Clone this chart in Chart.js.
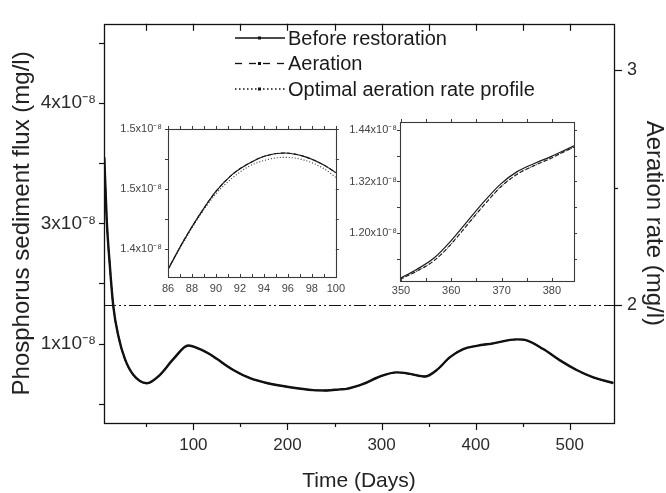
<!DOCTYPE html>
<html><head><meta charset="utf-8">
<script src="https://cdn.jsdelivr.net/npm/chart.js@4.4.1/dist/chart.umd.min.js"></script>
<style>
html,body{margin:0;padding:0;background:#fff;}
#wrap{position:relative;width:666px;height:493px;overflow:hidden;background:#fff;}
canvas{position:absolute;}
#main{left:0;top:0;}
#in1{left:110px;top:115px;}
#in2{left:345px;top:108px;}
</style></head><body>
<div id="wrap">
<canvas id="main" width="666" height="493"></canvas>
<canvas id="in1" width="240" height="190"></canvas>
<canvas id="in2" width="240" height="200"></canvas>
</div>
<script>
// ---- main plot data (flux in units of 1e-8 mg/l) ----
const mainDays = [5.3, 7.9, 11.4, 14.9, 20.2, 27.3, 36.1, 50.4, 64.5, 78.6, 94.6, 107.0, 117.6, 124.8, 142.4, 160.2, 177.9, 202.7, 227.4, 241.7, 255.8, 262.9, 280.6, 298.3, 316.1, 330.2, 346.1, 358.6, 372.7, 386.8, 401.1, 418.7, 443.6, 454.2, 471.8, 489.6, 507.3, 525.0, 546.2];
const beforeMain = [3.05, 2.53, 2.13, 1.81, 1.565, 1.37, 1.24, 1.17, 1.24, 1.37, 1.484, 1.454, 1.411, 1.373, 1.28, 1.212, 1.172, 1.137, 1.113, 1.11, 1.119, 1.123, 1.164, 1.226, 1.26, 1.248, 1.226, 1.28, 1.387, 1.454, 1.481, 1.502, 1.535, 1.527, 1.454, 1.36, 1.28, 1.218, 1.172];
const aerationMain = [3.05, 2.53, 2.13, 1.81, 1.565, 1.37, 1.24, 1.17, 1.24, 1.37, 1.483, 1.453, 1.410, 1.372, 1.28, 1.212, 1.172, 1.137, 1.113, 1.11, 1.119, 1.123, 1.164, 1.226, 1.26, 1.248, 1.226, 1.278, 1.385, 1.453, 1.481, 1.502, 1.535, 1.527, 1.454, 1.36, 1.28, 1.218, 1.172];
const optimalMain = [3.05, 2.53, 2.13, 1.81, 1.565, 1.37, 1.24, 1.17, 1.24, 1.37, 1.480, 1.451, 1.409, 1.372, 1.28, 1.212, 1.172, 1.137, 1.113, 1.11, 1.119, 1.123, 1.164, 1.226, 1.26, 1.248, 1.226, 1.278, 1.385, 1.453, 1.481, 1.502, 1.535, 1.527, 1.454, 1.36, 1.28, 1.218, 1.172];
const aerationRateDays = [5, 547];
const aerationRate = [2, 2];

const xTickValues = [100, 200, 300, 400, 500];
const xTickLabels = ['100', '200', '300', '400', '500'];
const yTickValues = [1.5, 2.5, 3.5];
const yTickLabels = ['1x10⁻⁸', '3x10⁻⁸', '4x10⁻⁸'];
const y2TickValues = [2, 3];
const y2TickLabels = ['2', '3'];

// ---- inset 1 (days 86-100) ----
const inset1Days = [86, 87.25, 88.6, 90.0, 91.35, 92.7, 94.1, 95.7, 97.4, 99.0, 100];
const inset1Before = [1.383, 1.406, 1.428, 1.448, 1.462, 1.471, 1.4775, 1.480, 1.477, 1.470, 1.4636];
const inset1Aeration = [1.383, 1.406, 1.428, 1.448, 1.462, 1.471, 1.4775, 1.480, 1.477, 1.470, 1.4636];
const inset1Optimal = [1.383, 1.405, 1.427, 1.446, 1.459, 1.4686, 1.474, 1.4764, 1.474, 1.467, 1.4597];
const inset1XTicks = [86, 88, 90, 92, 94, 96, 98, 100];
const inset1YTicks = [1.40, 1.45, 1.50];
const inset1YLabels = ['1.4x10⁻⁸', '1.5x10⁻⁸', '1.5x10⁻⁸'];

// ---- inset 2 (days 350-385) ----
const inset2Days = [349.8, 353.1, 356.5, 359.8, 363.1, 366.5, 369.8, 373.1, 376.5, 379.8, 382.2, 384.4];
const inset2Before = [1.094, 1.115, 1.141, 1.180, 1.226, 1.273, 1.314, 1.343, 1.362, 1.378, 1.391, 1.403];
const inset2Aeration = [1.092, 1.111, 1.135, 1.172, 1.218, 1.265, 1.307, 1.337, 1.357, 1.374, 1.388, 1.400];
const inset2Optimal = [1.092, 1.111, 1.135, 1.172, 1.218, 1.265, 1.307, 1.337, 1.357, 1.374, 1.388, 1.400];
const inset2XTicks = [350, 360, 370, 380];
const inset2YTicks = [1.20, 1.32, 1.44];
const inset2YLabels = ['1.20x10⁻⁸', '1.32x10⁻⁸', '1.44x10⁻⁸'];

const FONT = "'Liberation Sans', Arial, Helvetica, sans-serif";
const pts = (xs, ys) => xs.map((x, i) => ({x: x, y: ys[i]}));
const setTicks = vals => scale => { scale.ticks = vals.map(v => ({value: v})); };

function range(a, b, s) { const r = []; for (let v = a; v <= b + 1e-9; v += s) r.push(+v.toFixed(4)); return r; }

function frameTicks(spec) {
  return {
    id: 'frameTicks',
    afterDatasetsDraw(chart) {
      const ctx = chart.ctx, a = chart.chartArea;
      ctx.save();
      ctx.strokeStyle = spec.color;
      ctx.lineWidth = spec.width;
      ctx.setLineDash([]);
      ctx.strokeRect(Math.round(a.left) + 0.5, Math.round(a.top) + 0.5, Math.round(a.right - a.left), Math.round(a.bottom - a.top));
      ctx.lineWidth = spec.tickWidth;
      spec.marks.forEach(m => {
        const s = chart.scales[m.axis];
        m.values.forEach(v => {
          const p = Math.round(s.getPixelForValue(v)) + 0.5;
          ctx.beginPath();
          if (m.side === 'bottom') { ctx.moveTo(p, a.bottom); ctx.lineTo(p, a.bottom + m.len); }
          else if (m.side === 'top') { ctx.moveTo(p, a.top); ctx.lineTo(p, a.top - m.len); }
          else if (m.side === 'left') { ctx.moveTo(a.left, p); ctx.lineTo(a.left - m.len, p); }
          else { ctx.moveTo(a.right, p); ctx.lineTo(a.right + m.len, p); }
          ctx.stroke();
        });
      });
      ctx.restore();
    }
  };
}

const legendPlugin = {
  id: 'customLegend',
  afterDraw(chart) {
    const ctx = chart.ctx;
    const items = chart.data.datasets.filter(d => d.inLegend !== false);
    ctx.save();
    items.forEach((d, i) => {
      const y = 38 + i * 25.5;
      ctx.strokeStyle = '#111';
      ctx.lineWidth = 1.3;
      ctx.setLineDash(d.legendDash || []);
      ctx.beginPath(); ctx.moveTo(235, y); ctx.lineTo(285, y); ctx.stroke();
      ctx.setLineDash([]);
      ctx.fillStyle = '#111';
      ctx.fillRect(258, y - 1.5, 3, 3);
      ctx.fillStyle = '#1a1a1a';
      ctx.font = '20px ' + FONT;
      ctx.textBaseline = 'middle';
      ctx.textAlign = 'left';
      ctx.fillText(d.label, 288, y + 1);
    });
    ctx.restore();
  }
};

// ---- main chart ----
new Chart(document.getElementById('main'), {
  type: 'line',
  data: {
    datasets: [
      {label: 'Before restoration', data: pts(mainDays, beforeMain), borderColor: '#111', borderWidth: 2.4, pointRadius: 0, cubicInterpolationMode: 'monotone', yAxisID: 'y', legendDash: []},
      {label: 'Aeration', data: pts(mainDays, aerationMain), borderColor: '#111', borderWidth: 1.4, borderDash: [6, 4], pointRadius: 0, cubicInterpolationMode: 'monotone', yAxisID: 'y', legendDash: [7, 7]},
      {label: 'Optimal aeration rate profile', data: pts(mainDays, optimalMain), borderColor: '#111', borderWidth: 1.4, borderDash: [1.5, 2.5], pointRadius: 0, cubicInterpolationMode: 'monotone', yAxisID: 'y', legendDash: [1.5, 2.5]},
      {label: 'Aeration rate', data: pts(aerationRateDays, aerationRate), borderColor: '#111', borderWidth: 1.1, borderDash: [12, 3, 2, 3, 2, 3], pointRadius: 0, yAxisID: 'y2', inLegend: false}
    ]
  },
  options: {
    responsive: false, animation: false, devicePixelRatio: 1,
    layout: {padding: {top: 12, left: 0, right: 0, bottom: 0}},
    plugins: {legend: {display: false}, tooltip: {enabled: false}},
    scales: {
      x: {
        type: 'linear', position: 'bottom', min: 5, max: 547,
        afterBuildTicks: setTicks(xTickValues),
        afterFit: s => { s.height = 70; },
        grid: {display: false, drawTicks: false}, border: {display: false},
        ticks: {callback: (v, i) => xTickLabels[i], autoSkip: false, maxRotation: 0, padding: 12, color: '#2b2b2b', font: {family: FONT, size: 17}},
        title: {display: true, text: 'Time (Days)', color: '#222', font: {family: FONT, size: 21, lineHeight: 1}, padding: {top: 0, bottom: 1.5}}
      },
      y: {
        type: 'linear', position: 'left', min: 0.839, max: 4.161,
        afterBuildTicks: setTicks(yTickValues),
        afterFit: s => { s.width = 104; },
        grid: {display: false, drawTicks: false}, border: {display: false},
        ticks: {callback: (v, i) => yTickLabels[i], autoSkip: false, padding: 8, color: '#2b2b2b', font: {family: FONT, size: 19}},
        title: {display: true, text: 'Phosphorus sediment flux (mg/l)', color: '#222', font: {family: FONT, size: 24, lineHeight: 1}, padding: {top: 10, bottom: 0}}
      },
      y2: {
        type: 'linear', position: 'right', min: 1.5, max: 3.198,
        afterBuildTicks: setTicks(y2TickValues),
        afterFit: s => { s.width = 52; },
        grid: {display: false, drawTicks: false}, border: {display: false},
        ticks: {callback: (v, i) => y2TickLabels[i], autoSkip: false, padding: 13, color: '#2b2b2b', font: {family: FONT, size: 18}},
        title: {display: true, text: 'Aeration rate (mg/l)', color: '#222', font: {family: FONT, size: 24, lineHeight: 1}, padding: {top: 0, bottom: 0}}
      }
    }
  },
  plugins: [frameTicks({color: '#111', width: 1.3, tickWidth: 1.2, marks: [
    {axis: 'x', side: 'bottom', len: 7, values: xTickValues},
    {axis: 'x', side: 'bottom', len: 4, values: [50, 150, 250, 350, 450]},
    {axis: 'x', side: 'top', len: -7, values: [50, 100, 150, 200, 250, 300, 350, 400, 450, 500]},
    {axis: 'y', side: 'left', len: 5, values: [1, 1.5, 2, 2.5, 3, 3.5, 4]},
    {axis: 'y2', side: 'right', len: 8, values: y2TickValues},
    {axis: 'y2', side: 'right', len: 4, values: [2.5]}
  ]}), legendPlugin]
});

// ---- inset charts ----
function insetChart(id, cfg) {
  return new Chart(document.getElementById(id), {
    type: 'line',
    data: {
      datasets: [
        {label: 'Before restoration', data: pts(cfg.days, cfg.before), borderColor: '#1a1a1a', borderWidth: 1.2, pointRadius: 0, cubicInterpolationMode: 'monotone'},
        {label: 'Aeration', data: pts(cfg.days, cfg.aeration), borderColor: '#1a1a1a', borderWidth: 1.1, borderDash: [4, 2.5], pointRadius: 0, cubicInterpolationMode: 'monotone'},
        {label: 'Optimal aeration rate profile', data: pts(cfg.days, cfg.optimal), borderColor: '#333', borderWidth: 1.1, borderDash: [1, 2], pointRadius: 0, cubicInterpolationMode: 'monotone'}
      ]
    },
    options: {
      responsive: false, animation: false, devicePixelRatio: 1,
      layout: {padding: {top: cfg.top, left: 0, right: cfg.right, bottom: 0}},
      plugins: {legend: {display: false}, tooltip: {enabled: false}},
      scales: {
        x: {
          type: 'linear', min: cfg.xmin, max: cfg.xmax,
          afterBuildTicks: setTicks(cfg.xTicks),
          afterFit: s => { s.height = cfg.xh; },
          grid: {display: false, drawTicks: false}, border: {display: false},
          ticks: {callback: v => String(v), autoSkip: false, maxRotation: 0, padding: cfg.xpad, color: '#444', font: {family: FONT, size: 11}}
        },
        y: {
          type: 'linear', min: cfg.ymin, max: cfg.ymax,
          afterBuildTicks: setTicks(cfg.yTicks),
          afterFit: s => { s.width = cfg.yw; },
          grid: {display: false, drawTicks: false}, border: {display: false},
          ticks: {callback: (v, i) => cfg.yLabels[i], autoSkip: false, padding: cfg.ypad, color: '#444', font: {family: FONT, size: 11}}
        }
      }
    },
    plugins: [frameTicks({color: '#3a3a3a', width: 1.1, tickWidth: 1, marks: [
      {axis: 'x', side: 'bottom', len: -3, values: cfg.xMinor},
      {axis: 'x', side: 'top', len: 3, values: cfg.xMinor},
      {axis: 'y', side: 'left', len: 3, values: cfg.yMinor},
      {axis: 'y', side: 'right', len: 3, values: cfg.yMinor}
    ]})]
  });
}

insetChart('in1', {
  days: inset1Days, before: inset1Before, aeration: inset1Aeration, optimal: inset1Optimal,
  xmin: 86, xmax: 100, ymin: 1.3767, ymax: 1.50,
  xTicks: inset1XTicks, yTicks: inset1YTicks, yLabels: inset1YLabels,
  xMinor: range(86, 100, 1), yMinor: [1.40, 1.425, 1.45, 1.475, 1.50],
  top: 14, right: 11, xh: 28, yw: 58, xpad: 5, ypad: 6
});
insetChart('in2', {
  days: inset2Days, before: inset2Before, aeration: inset2Aeration, optimal: inset2Optimal,
  xmin: 349.8, xmax: 384.4, ymin: 1.0882, ymax: 1.4586,
  xTicks: inset2XTicks, yTicks: inset2YTicks, yLabels: inset2YLabels,
  xMinor: range(350, 380, 5), yMinor: [1.14, 1.20, 1.26, 1.32, 1.38, 1.44],
  top: 14, right: 11, xh: 27, yw: 55, xpad: 3.5, ypad: 3
});
</script>
</body></html>
